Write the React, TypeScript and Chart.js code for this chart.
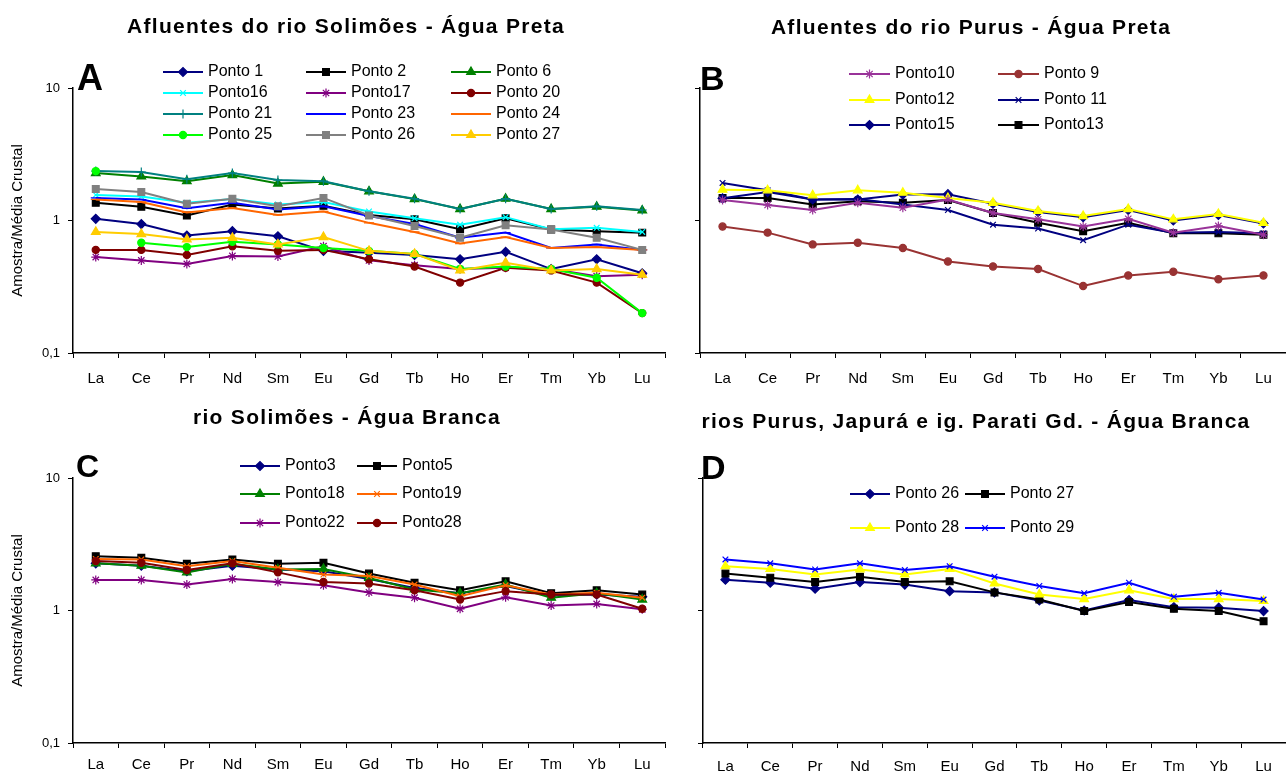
import { useEffect, useRef } from 'react';
import { Chart, registerables } from 'chart.js';
import { drawPoint } from 'chart.js/helpers';

Chart.register(...registerables);

const SANS = '"Liberation Sans", Arial, Helvetica, sans-serif';

// ---------------- data ----------------
const elements = ['La', 'Ce', 'Pr', 'Nd', 'Sm', 'Eu', 'Gd', 'Tb', 'Ho', 'Er', 'Tm', 'Yb', 'Lu'];
const yTicks = [0.1, 1, 10];
const yTickLabels = ['0,1', '1', '10'];
const yAxisTitle = 'Amostra/Média Crustal';

const titleA = 'Afluentes do rio Solimões - Água Preta';
const titleB = 'Afluentes do rio Purus - Água Preta';
const titleC = 'rio Solimões - Água Branca';
const titleD = 'rios Purus, Japurá e ig. Parati Gd. - Água Branca';

// Panel A
const a_ponto1 = [1.03, 0.94, 0.77, 0.83, 0.76, 0.59, 0.57, 0.55, 0.51, 0.58, 0.43, 0.51, 0.40];
const a_ponto2 = [1.36, 1.27, 1.09, 1.32, 1.23, 1.29, 1.10, 1.02, 0.86, 1.04, 0.855, 0.83, 0.81];
const a_ponto6 = [2.28, 2.15, 1.98, 2.2, 1.9, 1.96, 1.66, 1.45, 1.22, 1.46, 1.22, 1.27, 1.19];
const a_ponto16 = [1.56, 1.52, 1.36, 1.45, 1.32, 1.38, 1.17, 1.04, 0.93, 1.06, 0.86, 0.88, 0.82];
const a_ponto17 = [0.53, 0.5, 0.47, 0.54, 0.535, 0.64, 0.5, 0.46, 0.43, 0.44, 0.43, 0.38, 0.39];
const a_ponto20 = [0.6, 0.6, 0.55, 0.64, 0.59, 0.6, 0.51, 0.45, 0.34, 0.44, 0.42, 0.34, 0.2];
const a_ponto21 = [2.36, 2.32, 2.05, 2.28, 2.02, 1.98, 1.66, 1.46, 1.22, 1.46, 1.22, 1.28, 1.2];
const a_ponto23 = [1.48, 1.44, 1.24, 1.36, 1.21, 1.28, 1.08, 0.94, 0.74, 0.81, 0.62, 0.66, 0.6];
const a_ponto24 = [1.44, 1.38, 1.15, 1.24, 1.1, 1.17, 0.96, 0.82, 0.67, 0.75, 0.62, 0.63, 0.6];
const a_ponto25 = [2.36, 0.68, 0.63, 0.69, 0.66, 0.62, 0.59, 0.56, 0.43, 0.45, 0.43, 0.37, 0.2];
const a_ponto26 = [1.73, 1.64, 1.34, 1.46, 1.28, 1.48, 1.09, 0.91, 0.74, 0.92, 0.855, 0.74, 0.6];
const a_ponto27 = [0.82, 0.79, 0.72, 0.74, 0.66, 0.75, 0.59, 0.56, 0.42, 0.48, 0.42, 0.43, 0.39];

// Panel B
const b_ponto10 = [1.43, 1.31, 1.2, 1.36, 1.25, 1.44, 1.14, 1.02, 0.9, 1.03, 0.81, 0.91, 0.78];
const b_ponto9 = [0.9, 0.81, 0.66, 0.68, 0.62, 0.49, 0.45, 0.43, 0.32, 0.385, 0.41, 0.36, 0.385];
const b_ponto12 = [1.71, 1.69, 1.55, 1.69, 1.62, 1.48, 1.36, 1.18, 1.08, 1.22, 1.02, 1.12, 0.96];
const b_ponto11 = [1.92, 1.69, 1.44, 1.45, 1.32, 1.2, 0.93, 0.87, 0.71, 0.93, 0.81, 0.82, 0.8];
const b_ponto15 = [1.47, 1.64, 1.44, 1.44, 1.57, 1.58, 1.34, 1.16, 1.06, 1.2, 1.0, 1.1, 0.95];
const b_ponto13 = [1.48, 1.48, 1.32, 1.4, 1.36, 1.43, 1.14, 0.96, 0.83, 0.96, 0.8, 0.8, 0.78];

// Panel C
const c_ponto3 = [2.27, 2.18, 1.98, 2.18, 2.04, 1.98, 1.73, 1.48, 1.35, 1.53, 1.3, 1.32, 1.27];
const c_ponto5 = [2.57, 2.5, 2.25, 2.43, 2.25, 2.29, 1.9, 1.62, 1.42, 1.66, 1.35, 1.42, 1.32];
const c_ponto18 = [2.27, 2.18, 1.94, 2.25, 2.04, 2.06, 1.76, 1.44, 1.35, 1.57, 1.25, 1.35, 1.21];
const c_ponto19 = [2.45, 2.43, 2.16, 2.36, 2.1, 1.87, 1.82, 1.57, 1.28, 1.55, 1.32, 1.36, 1.25];
const c_ponto22 = [1.7, 1.7, 1.57, 1.73, 1.64, 1.55, 1.37, 1.25, 1.03, 1.26, 1.09, 1.12, 1.02];
const c_ponto28 = [2.36, 2.29, 2.02, 2.27, 1.94, 1.64, 1.6, 1.42, 1.21, 1.4, 1.32, 1.32, 1.03];

// Panel D
const d_ponto26 = [1.71, 1.62, 1.46, 1.64, 1.57, 1.4, 1.37, 1.19, 1.0, 1.2, 1.06, 1.05, 0.99];
const d_ponto27 = [1.9, 1.77, 1.64, 1.8, 1.64, 1.66, 1.37, 1.21, 0.99, 1.16, 1.03, 0.99, 0.83];
const d_ponto28 = [2.16, 2.06, 1.87, 2.04, 1.87, 2.06, 1.6, 1.32, 1.22, 1.42, 1.22, 1.22, 1.18];
const d_ponto29 = [2.43, 2.27, 2.04, 2.27, 2.02, 2.16, 1.8, 1.53, 1.35, 1.62, 1.27, 1.36, 1.21];

// ---------------- styling helpers ----------------
const MARK: Record<string, [string, number]> = {
  diamond: ['rectRot', 4.5],
  square: ['rect', 4.8],
  triangle: ['triangle', 5],
  x: ['crossRot', 4],
  star: ['star', 4.5],
  circle: ['circle', 3.6],
  plus: ['cross', 4.5],
  dash: ['line', 5],
};

function series(label: string, data: number[], color: string, mark: string, extra: any = {}) {
  const [style, r] = MARK[mark];
  return {
    label,
    data,
    borderColor: color,
    backgroundColor: color,
    pointBackgroundColor: color,
    pointBorderColor: color,
    pointStyle: style,
    pointRadius: r,
    pointBorderWidth: 1.2,
    borderWidth: 2,
    tension: 0,
    fill: false,
    ...extra,
  };
}

type Spec = {
  key: string;
  left: number; top: number; w: number; h: number;
  area: { l: number; t: number; r: number; b: number };
  title: string; titleX: number; titleY: number;
  letter: string; letterX: number; letterY: number; letterSize: number;
  showYLabels: boolean;
  xPad: number;
  legend: { cols: number; colX: number[]; rowY: number[]; lineLen: number };
  laterOnTop: boolean;
  datasets: any[];
};

function makeDecor(spec: Spec) {
  return {
    id: 'decor_' + spec.key,
    afterDraw(chart: any) {
      const ctx = chart.ctx as CanvasRenderingContext2D;
      const ox = spec.left, oy = spec.top;
      ctx.save();
      // title
      ctx.fillStyle = '#000';
      ctx.font = `bold 21px ${SANS}`;
      (ctx as any).letterSpacing = '1.3px';
      ctx.textAlign = 'center';
      ctx.textBaseline = 'middle';
      ctx.fillText(spec.title, spec.titleX - ox, spec.titleY - oy);
      (ctx as any).letterSpacing = '0px';
      // panel letter
      ctx.font = `bold ${spec.letterSize}px ${SANS}`;
      ctx.textAlign = 'left';
      ctx.textBaseline = 'alphabetic';
      ctx.fillText(spec.letter, spec.letterX - ox, spec.letterY - oy);
      // legend
      const lg = spec.legend;
      chart.data.datasets.forEach((d: any, i: number) => {
        const col = i % lg.cols;
        const row = Math.floor(i / lg.cols);
        const x0 = lg.colX[col] - ox;
        const y = lg.rowY[row] - oy;
        ctx.strokeStyle = d.borderColor;
        ctx.lineWidth = 2;
        ctx.beginPath();
        ctx.moveTo(x0, y);
        ctx.lineTo(x0 + lg.lineLen, y);
        ctx.stroke();
        ctx.fillStyle = d.pointBackgroundColor;
        ctx.strokeStyle = d.pointBorderColor;
        ctx.lineWidth = 1.2;
        drawPoint(ctx, { pointStyle: d.pointStyle, radius: d.pointRadius, rotation: 0, borderWidth: 1.2 } as any, x0 + lg.lineLen / 2, y);
        ctx.fillStyle = '#000';
        ctx.font = `16px ${SANS}`;
        ctx.textAlign = 'left';
        ctx.textBaseline = 'middle';
        ctx.fillText(d.label, x0 + lg.lineLen + 5, y);
      });
      ctx.restore();
    },
  };
}

function buildConfig(spec: Spec): any {
  const n = spec.datasets.length;
  const datasets = spec.datasets.map((d, i) => ({ ...d, order: spec.laterOnTop ? n - i : 0 }));
  const yWidth = spec.area.l - spec.left;
  const xHeight = spec.top + spec.h - spec.area.b;
  return {
    type: 'line',
    data: { labels: elements, datasets },
    options: {
      responsive: false,
      animation: false,
      devicePixelRatio: 1,
      events: [],
      layout: {
        autoPadding: false,
        padding: { left: 0, top: spec.area.t - spec.top, right: spec.left + spec.w - spec.area.r, bottom: 0 },
      },
      plugins: { legend: { display: false }, title: { display: false }, tooltip: { enabled: false } },
      scales: {
        x: {
          type: 'category',
          offset: true,
          grid: { display: true, offset: true, drawOnChartArea: false, drawTicks: true, tickLength: 5, color: '#000', lineWidth: 1 },
          border: { display: true, color: '#000', width: 1.5 },
          ticks: { autoSkip: false, maxRotation: 0, minRotation: 0, padding: spec.xPad, color: '#000', font: { family: SANS, size: 15 } },
          afterFit: (s: any) => { s.height = xHeight; },
        },
        y: {
          type: 'logarithmic',
          position: 'left',
          min: 0.1,
          max: 10,
          afterBuildTicks: (s: any) => { s.ticks = yTicks.map((v) => ({ value: v })); },
          ticks: {
            autoSkip: false,
            padding: 8,
            color: '#000',
            font: { family: SANS, size: 13 },
            callback: (_v: any, i: number) => (spec.showYLabels ? yTickLabels[i] : ''),
          },
          grid: { display: true, drawOnChartArea: false, drawTicks: true, tickLength: 5, color: '#000', lineWidth: 1 },
          border: { display: true, color: '#000', width: 1.5 },
          title: {
            display: spec.showYLabels,
            text: yAxisTitle,
            color: '#000',
            font: { family: SANS, size: 15 },
            padding: { top: 9, bottom: 0 },
          },
          afterFit: (s: any) => { s.width = yWidth; },
        },
      },
    },
    plugins: [makeDecor(spec)],
  };
}

const hideFirstSegment = {
  segment: { borderColor: (ctx: any) => (ctx.p0DataIndex === 0 ? 'rgba(0,0,0,0)' : undefined) },
};

const specs: Spec[] = [
  {
    key: 'A', left: 0, top: 0, w: 692, h: 395,
    area: { l: 73, t: 88, r: 665, b: 353 },
    title: titleA, titleX: 346, titleY: 27,
    letter: 'A', letterX: 77, letterY: 90, letterSize: 36,
    showYLabels: true, xPad: 12, laterOnTop: true,
    legend: { cols: 3, colX: [163, 306, 451], rowY: [72, 93, 114, 135], lineLen: 40 },
    datasets: [
      series('Ponto 1', a_ponto1, '#000080', 'diamond'),
      series('Ponto 2', a_ponto2, '#000000', 'square'),
      series('Ponto 6', a_ponto6, '#008000', 'triangle'),
      series('Ponto16', a_ponto16, '#00FFFF', 'x'),
      series('Ponto17', a_ponto17, '#800080', 'star'),
      series('Ponto 20', a_ponto20, '#800000', 'circle'),
      series('Ponto 21', a_ponto21, '#008080', 'plus'),
      series('Ponto 23', a_ponto23, '#0000FF', 'dash'),
      series('Ponto 24', a_ponto24, '#FF6600', 'dash'),
      series('Ponto 25', a_ponto25, '#00FF00', 'circle', hideFirstSegment),
      series('Ponto 26', a_ponto26, '#808080', 'square'),
      series('Ponto 27', a_ponto27, '#FFCC00', 'triangle'),
    ],
  },
  {
    key: 'B', left: 692, top: 0, w: 594, h: 395,
    area: { l: 700, t: 88, r: 1286, b: 353 },
    title: titleB, titleX: 971, titleY: 28,
    letter: 'B', letterX: 700, letterY: 90, letterSize: 34,
    showYLabels: false, xPad: 12, laterOnTop: false,
    legend: { cols: 2, colX: [849, 998], rowY: [74, 100, 125], lineLen: 41 },
    datasets: [
      series('Ponto10', b_ponto10, '#993399', 'star'),
      series('Ponto 9', b_ponto9, '#993333', 'circle'),
      series('Ponto12', b_ponto12, '#FFFF00', 'triangle'),
      series('Ponto 11', b_ponto11, '#000080', 'x'),
      series('Ponto15', b_ponto15, '#000080', 'diamond'),
      series('Ponto13', b_ponto13, '#000000', 'square'),
    ],
  },
  {
    key: 'C', left: 0, top: 395, w: 692, h: 378,
    area: { l: 73, t: 478, r: 665, b: 743 },
    title: titleC, titleX: 347, titleY: 418,
    letter: 'C', letterX: 76, letterY: 477, letterSize: 32,
    showYLabels: true, xPad: 8, laterOnTop: true,
    legend: { cols: 2, colX: [240, 357], rowY: [466, 494, 523], lineLen: 40 },
    datasets: [
      series('Ponto3', c_ponto3, '#000080', 'diamond'),
      series('Ponto5', c_ponto5, '#000000', 'square'),
      series('Ponto18', c_ponto18, '#008000', 'triangle'),
      series('Ponto19', c_ponto19, '#FF6600', 'x'),
      series('Ponto22', c_ponto22, '#800080', 'star'),
      series('Ponto28', c_ponto28, '#800000', 'circle'),
    ],
  },
  {
    key: 'D', left: 692, top: 395, w: 594, h: 378,
    area: { l: 703, t: 478, r: 1286, b: 743 },
    title: titleD, titleX: 976, titleY: 422,
    letter: 'D', letterX: 701, letterY: 479, letterSize: 34,
    showYLabels: false, xPad: 10, laterOnTop: true,
    legend: { cols: 2, colX: [850, 965], rowY: [494, 528], lineLen: 40 },
    datasets: [
      series('Ponto 26', d_ponto26, '#000080', 'diamond'),
      series('Ponto 27', d_ponto27, '#000000', 'square'),
      series('Ponto 28', d_ponto28, '#FFFF00', 'triangle'),
      series('Ponto 29', d_ponto29, '#0000FF', 'x'),
    ],
  },
];

function Panel({ spec }: { spec: Spec }) {
  const ref = useRef<HTMLCanvasElement>(null);
  useEffect(() => {
    const chart = new Chart(ref.current as HTMLCanvasElement, buildConfig(spec));
    return () => chart.destroy();
  }, [spec]);
  return (
    <canvas
      ref={ref}
      width={spec.w}
      height={spec.h}
      style={{ position: 'absolute', left: spec.left, top: spec.top, width: spec.w, height: spec.h }}
    />
  );
}

export default function App() {
  return (
    <div style={{ position: 'absolute', left: 0, top: 0, width: 1286, height: 773, background: '#fff', overflow: 'hidden' }}>
      {specs.map((s) => (
        <Panel key={s.key} spec={s} />
      ))}
    </div>
  );
}
